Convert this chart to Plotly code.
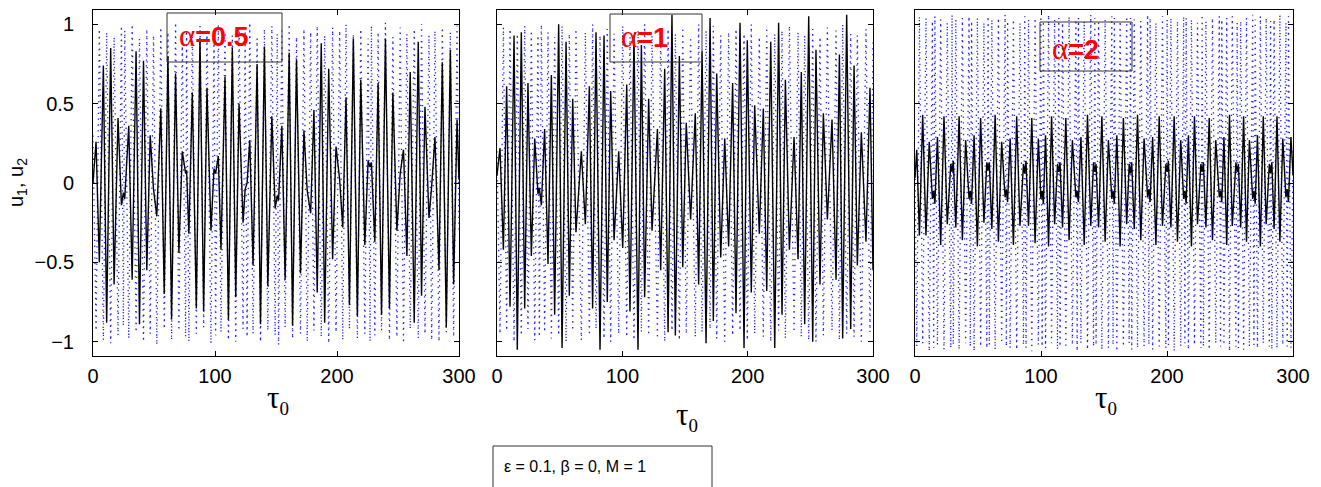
import plotly.graph_objects as go

W, H = 1321, 487

# ---------------- data ----------------
# Panel 1 : alpha = 0.5
tau_a = [0, 2.5, 5.2, 8.5, 11.2, 14.5, 17.3, 20.5, 23.3, 24.9,
         26.0, 29.3, 32.1, 35.3, 38.1, 41.4, 44.1, 46.9, 49.6, 52.3,
         55.6, 58.4, 61.4, 64.4, 67.7, 70.4, 73.2, 75.9, 76.7, 78.6,
         81.4, 84.7, 87.7, 90.7, 93.4, 96.7, 99.2, 100.5, 102.7, 104.9,
         108.2, 111.0, 114.2, 117.0, 119.7, 123.0, 124.7, 126.3, 128.5, 131.2,
         134.5, 137.3, 140.5, 143.3, 146.6, 149.3, 151.0, 152.1, 154.8, 157.5,
         160.8, 163.6, 166.8, 170.1, 172.9, 175.6, 178.4, 181.1, 183.8, 187.1,
         189.9, 193.2, 196.4, 199.2, 202.2, 204.7, 207.4, 210.2, 213.4, 216.7,
         219.5, 222.8, 225.5, 227.1, 228.2, 231.0, 233.7, 236.5, 239.7, 243.0,
         245.8, 249.1, 251.8, 254.5, 257.3, 260.0, 263.3, 266.6, 269.3, 272.1,
         275.4, 277.6, 280.3, 283.6, 286.3, 289.6, 292.9, 295.6, 298.4, 300]
u1_a = [0, 0.26, -0.5, 0.74, -0.88, 0.85, -0.64, 0.41, -0.14, -0.06,
        -0.10, 0.36, -0.61, 0.83, -0.89, 0.77, -0.55, 0.30, -0.04, -0.21,
        0.47, -0.70, 0.80, -0.86, 0.69, -0.44, 0.20, 0.06, 0.08, -0.32,
        0.57, -0.79, 0.91, -0.81, 0.60, -0.30, 0.09, 0.06, 0.17, -0.42,
        0.67, -0.86, 0.85, -0.72, 0.50, -0.25, -0.04, 0.0, 0.27, -0.52,
        0.75, -0.89, 0.86, -0.65, 0.42, -0.16, -0.08, -0.11, 0.36, -0.61,
        0.82, -0.90, 0.78, -0.57, 0.33, -0.05, -0.19, 0.46, -0.69, 0.88,
        -0.88, 0.72, -0.48, 0.23, 0.02, -0.28, 0.54, -0.77, 0.91, -0.84,
        0.65, -0.39, 0.14, 0.10, 0.13, -0.37, 0.63, -0.83, 0.91, -0.79,
        0.57, -0.30, 0.06, 0.21, -0.46, 0.70, -0.88, 0.89, -0.71, 0.48,
        -0.22, -0.02, 0.29, -0.55, 0.76, -0.91, 0.84, -0.64, 0.40, 0.02]
u2_a = [0.3, -0.93, 0.97, -0.99, 0.95, -1.01, 0.92, -0.96, 0.99, -0.9,
        0.96, -0.98, 1.0, -0.94, 0.91, -1.0, 0.97, -0.95, 0.93, -1.02,
        0.98, -0.92, 0.95, -0.99, 1.01, -0.93, 0.9, -0.97, 0.96, -1.0,
        0.94, -0.95, 0.99, -0.91, 0.97, -1.01, 0.92, -0.96, 1.0, -0.94,
        0.95, -0.99, 0.93, -1.0, 0.98, -0.92, 0.96, -0.97, 1.01, -0.95,
        0.91, -1.0, 0.97, -0.93, 0.99, -0.96, 0.94, -1.02, 0.96, -0.91,
        1.0, -0.98, 0.92, -0.95, 0.97, -1.0, 0.95, -0.93, 0.99, -0.97,
        0.93, -1.01, 0.98, -0.94, 0.96, -0.99, 1.0, -0.92, 0.94, -0.98,
        0.97, -0.95, 0.91, -1.0, 0.99, -0.96, 0.95, -0.93, 1.01, -0.99,
        0.92, -0.97, 0.98, -1.01, 0.94, -0.92, 0.97, -0.98, 1.0, -0.95,
        0.93, -0.99, 0.96, -1.0, 0.98, -0.94, 0.95, -0.97, 0.99, -0.3]

# Panel 2 : alpha = 1
tau_b = [0, 2.4, 5.1, 7.7, 10.4, 13.6, 16.2, 19.4, 22.1, 24.7,
         27.4, 30.1, 32.7, 33.8, 35.4, 38.0, 40.7, 43.4, 46.0, 49.2,
         51.9, 55.1, 57.7, 60.4, 63.0, 67.3, 70.5, 73.7, 76.3, 79.0,
         82.2, 85.4, 88.0, 90.7, 93.4, 97.1, 100.3, 103.5, 106.1, 109.3,
         112.5, 115.2, 117.8, 121.0, 123.7, 128.0, 130.6, 133.8, 136.5, 139.6,
         142.3, 145.5, 148.2, 151.0, 154.5, 158.2, 160.9, 163.6, 166.8, 170.0,
         172.6, 175.3, 178.5, 181.7, 184.8, 188.0, 190.7, 193.9, 197.1, 199.7,
         202.9, 205.6, 209.3, 212.5, 215.2, 218.4, 221.6, 224.7, 227.4, 230.1,
         233.3, 237.0, 240.2, 242.8, 245.5, 248.7, 251.9, 254.5, 257.7, 260.4,
         263.6, 267.3, 270.5, 273.2, 275.8, 279.0, 282.2, 284.9, 287.5, 290.7,
         294.4, 297.6, 300]
u1_b = [0.05, 0.22, -0.42, 0.61, -0.78, 0.93, -1.05, 0.95, -0.79, 0.63,
        -0.46, 0.28, -0.07, -0.03, -0.14, 0.34, -0.51, 0.68, -0.83, 1.00,
        -1.04, 0.89, -0.71, 0.53, -0.31, 0.20, -0.26, 0.61, -0.79, 0.95,
        -1.05, 0.93, -0.75, 0.58, -0.36, 0.20, -0.41, 0.62, -0.81, 0.93,
        -1.05, 0.87, -0.72, 0.53, -0.30, 0.34, -0.55, 0.72, -0.94, 1.06,
        -0.96, 0.80, -0.53, 0.38, -0.23, 0.44, -0.64, 0.83, -1.01, 1.04,
        -0.87, 0.69, -0.47, 0.28, -0.40, 0.63, -0.82, 1.01, -1.04, 0.90,
        -0.69, 0.49, -0.32, 0.47, -0.68, 0.89, -1.04, 1.01, -0.83, 0.65,
        -0.42, 0.29, -0.48, 0.70, -0.89, 1.05, -1.00, 0.84, -0.64, 0.44,
        -0.23, 0.40, -0.61, 0.81, -0.98, 1.06, -0.92, 0.74, -0.52, 0.32,
        -0.37, 0.60, -0.55]
u2_b = [0.2, -0.95, 0.98, -0.93, 0.97, -1.0, 0.94, -0.96, 0.99, -0.92,
        0.96, -0.99, 0.93, -0.97, 1.0, -0.94, 0.95, -0.98, 0.92, -0.96,
        0.99, -1.0, 0.94, -0.93, 0.97, -0.99, 0.95, -0.96, 1.0, -0.92,
        0.93, -0.98, 0.97, -1.0, 0.94, -0.95, 0.99, -0.97, 0.92, -0.99,
        0.96, -0.94, 1.0, -0.96, 0.93, -0.98, 0.95, -1.0, 0.97, -0.93,
        0.94, -0.99, 0.98, -0.95, 0.92, -0.97, 1.0, -0.94, 0.96, -0.92,
        0.99, -0.98, 0.93, -1.0, 0.95, -0.96, 0.97, -0.93, 0.94, -0.99,
        1.0, -0.95, 0.92, -0.97, 0.98, -1.0, 0.94, -0.93, 0.96, -0.98,
        0.99, -0.94, 0.95, -0.97, 0.93, -0.99, 0.97, -1.0, 0.92, -0.96,
        0.98, -0.93, 0.96, -0.99, 1.0, -0.95, 0.94, -0.97, 0.93, -1.0,
        0.97, -0.94, 0.9]

# Panel 3 : alpha = 2
tau_c = [0, 1.4, 3.5, 6.1, 8.7, 11.3, 13.8, 14.8, 15.8,
         17.8, 20.4, 23.0, 25.6, 28.4, 29.4, 30.4,
         32.4, 35.0, 37.6, 40.2, 42.9, 43.9, 44.9,
         46.9, 49.5, 52.1, 54.7, 57.0, 58.0, 59.0,
         61.0, 63.6, 66.2, 68.8, 71.5, 72.5, 73.5,
         75.5, 78.1, 80.7, 83.3, 86.1, 87.1, 88.1,
         90.1, 92.7, 95.3, 97.9, 99.9, 100.9, 101.9,
         103.6, 106.0, 108.4, 110.8, 113.1, 114.1, 115.1,
         117.1, 119.7, 122.3, 124.9, 127.7, 128.7, 129.7,
         131.7, 134.3, 136.9, 139.5, 141.7, 142.7, 143.7,
         145.7, 148.3, 150.9, 153.5, 156.2, 157.2, 158.2,
         160.2, 162.8, 165.4, 168.0, 170.0, 171.0, 172.0,
         174.0, 176.6, 179.2, 181.8, 184.6, 185.6, 186.6,
         188.6, 191.2, 193.8, 196.4, 199.1, 200.1, 201.1,
         203.1, 205.7, 208.3, 210.9, 213.2, 214.2, 215.2,
         217.0, 219.4, 221.8, 224.2, 226.9, 227.9, 228.9,
         230.9, 233.5, 236.1, 238.7, 241.5, 242.5, 243.5,
         245.2, 247.4, 249.6, 251.8, 254.7, 255.7, 256.7,
         258.5, 260.8, 263.1, 265.4, 268.0, 269.0, 270.0,
         271.8, 274.1, 276.4, 278.7, 281.2, 282.2, 283.2,
         285.0, 287.3, 289.6, 291.9, 294.4, 295.4, 296.4,
         298.4, 300]
u1_c = [0.03, 0.21, -0.33, 0.43, -0.33, 0.26, -0.10, -0.05, -0.13,
        0.29, -0.39, 0.42, -0.26, 0.12, 0.07, 0.14,
        -0.28, 0.42, -0.36, 0.27, -0.10, -0.05, -0.13,
        0.30, -0.40, 0.41, -0.25, 0.13, 0.08, 0.13,
        -0.29, 0.43, -0.37, 0.26, -0.09, -0.04, -0.12,
        0.28, -0.39, 0.42, -0.27, 0.12, 0.06, 0.14,
        -0.27, 0.41, -0.38, 0.28, -0.10, -0.05, -0.13,
        0.30, -0.40, 0.42, -0.26, 0.12, 0.07, 0.13,
        -0.28, 0.41, -0.36, 0.27, -0.09, -0.05, -0.12,
        0.29, -0.39, 0.43, -0.27, 0.13, 0.07, 0.12,
        -0.28, 0.42, -0.37, 0.27, -0.10, -0.05, -0.13,
        0.30, -0.40, 0.41, -0.26, 0.12, 0.06, 0.13,
        -0.29, 0.43, -0.36, 0.28, -0.09, -0.04, -0.12,
        0.29, -0.39, 0.42, -0.27, 0.12, 0.07, 0.14,
        -0.28, 0.42, -0.37, 0.27, -0.10, -0.05, -0.13,
        0.30, -0.40, 0.42, -0.26, 0.12, 0.07, 0.13,
        -0.28, 0.41, -0.36, 0.27, -0.09, -0.05, -0.12,
        0.29, -0.39, 0.43, -0.27, 0.13, 0.07, 0.12,
        -0.28, 0.42, -0.37, 0.27, -0.10, -0.05, -0.13,
        0.30, -0.40, 0.42, -0.26, 0.12, 0.06, 0.13,
        -0.29, 0.42, -0.37, 0.28, -0.09, -0.04, -0.12,
        0.29, 0.05]
u2_c = [0.1, -1.03, 1.05, -1.01, 1.04, -1.06, 1.02, -1.04, 1.05, -1.02,
        1.03, -1.05, 1.01, -1.04, 1.06, -1.02, 1.03, -1.05, 1.04, -1.01,
        1.05, -1.03, 1.02, -1.06, 1.04, -1.03, 1.01, -1.04, 1.05, -1.02,
        1.03, -1.05, 1.04, -1.01, 1.06, -1.03, 1.02, -1.04, 1.03, -1.05,
        1.01, -1.02, 1.05, -1.04, 1.03, -1.06, 1.04, -1.02, 1.05, -1.03,
        1.02, -1.04, 1.06, -1.01, 1.03, -1.05, 1.04, -1.03, 1.01, -1.04,
        1.05, -1.02, 1.03, -1.06, 1.04, -1.01, 1.02, -1.05, 1.06, -1.03,
        1.04, -1.02, 1.01, -1.05, 1.03, -1.04, 1.05, -1.02, 1.04, -1.06,
        1.02, -1.03, 1.05, -1.01, 1.04, -1.05, 1.03, -1.04, 1.02, -1.03,
        1.06, -1.02, 1.04, -1.05, 1.01, -1.03, 1.05, -1.04, 1.03, -1.02,
        1.04, -1.06, 1.02, -1.03, 1.05, -1.01, 1.04, -1.05, 1.03, -1.02,
        1.01, -1.04, 1.06, -1.03, 1.02, -1.05, 1.04, -1.01, 1.05, -1.03,
        1.03, -1.02, 1.04, -1.06, 1.05, -1.03, 1.01, -1.04, 1.02, -1.05,
        1.04, -1.03, 1.06, -1.02, 1.03, -1.04, 1.05, -1.01, 1.04, -1.03,
        1.02, -1.05, 1.03, -1.04, 1.06, -1.02, 1.01, -1.03, 1.05, -1.04,
        0.2]

alpha_labels = ["0.5", "1", "2"]
x_ticks = [0, 100, 200, 300]
y_ticks = [-1, -0.5, 0, 0.5, 1]
param_text = "ε = 0.1, β = 0, M = 1"

# ---------------- figure ----------------
panels = [(tau_a, u1_a, u2_a), (tau_b, u1_b, u2_b), (tau_c, u1_c, u2_c)]
x_px = [(93, 459), (497, 873), (915, 1293)]
y_px = (10, 356)

fig = go.Figure()
for i, (t, a, b) in enumerate(panels):
    xa = "x" if i == 0 else f"x{i+1}"
    ya = "y" if i == 0 else f"y{i+1}"
    fig.add_trace(go.Scatter(x=t, y=b, mode="lines", xaxis=xa, yaxis=ya,
                             line=dict(color="rgb(30,30,255)", width=1.3, dash="1.3px,4.5px"),
                             showlegend=False, hoverinfo="skip"))
    fig.add_trace(go.Scatter(x=t, y=a, mode="lines", xaxis=xa, yaxis=ya,
                             line=dict(color="black", width=1.4),
                             showlegend=False, hoverinfo="skip"))

tickfont = dict(family="Liberation Sans", size=20, color="black")
layout = dict(width=W, height=H,
              margin=dict(l=0, r=0, t=0, b=0, pad=0, autoexpand=False),
              paper_bgcolor="white", plot_bgcolor="white", showlegend=False)
for i, (l, r) in enumerate(x_px):
    xk = "xaxis" if i == 0 else f"xaxis{i+1}"
    yk = "yaxis" if i == 0 else f"yaxis{i+1}"
    layout[xk] = dict(domain=[l / W, r / W], range=[0, 300], tickvals=x_ticks,
                      ticks="inside", ticklen=5, tickcolor="black",
                      showline=True, linecolor="black", linewidth=1, mirror="ticks",
                      showgrid=False, zeroline=False, tickfont=tickfont, automargin=False,
                      anchor="y" if i == 0 else f"y{i+1}", ticklabelstandoff=2)
    layout[yk] = dict(domain=[1 - y_px[1] / H, 1 - y_px[0] / H], range=[-1.09, 1.09],
                      tickvals=y_ticks, ticks="inside", ticklen=5, tickcolor="black",
                      showline=True, linecolor="black", linewidth=1, mirror="ticks",
                      showgrid=False, zeroline=False, tickfont=tickfont, automargin=False,
                      showticklabels=(i == 0), ticklabelstandoff=14,
                      anchor="x" if i == 0 else f"x{i+1}")
fig.update_layout(**layout)

# alpha boxes
boxes = [(167, 282, 13, 62), (610, 702, 14, 62), (1040, 1132, 22, 71)]
text_pos = [(177, 36), (619, 37), (1050, 49)]
for (x0, x1, y0, y1), (tx, ty), lab in zip(boxes, text_pos, alpha_labels):
    fig.add_shape(type="rect", xref="paper", yref="paper",
                  x0=x0 / W, x1=x1 / W, y0=1 - y1 / H, y1=1 - y0 / H,
                  line=dict(color="#333333", width=1), fillcolor="rgba(0,0,0,0)")
    fig.add_annotation(xref="paper", yref="paper", x=tx / W, y=1 - ty / H,
                       xanchor="left", yanchor="middle", showarrow=False,
                       text=f"<span style='font-family:Liberation Serif;font-size:31px'>α</span><b>={lab}</b>",
                       font=dict(family="Liberation Sans", size=27, color="red"))

# axis titles
for (l, r), ty in zip(x_px, [399, 416, 399]):
    fig.add_annotation(xref="paper", yref="paper", x=((l + r) / 2 + 2) / W, y=1 - ty / H,
                       xanchor="center", yanchor="middle", showarrow=False,
                       text="τ<sub><span style='font-size:19px'>0</span></sub>",
                       font=dict(family="Liberation Serif", size=31, color="black"))
fig.add_annotation(xref="paper", yref="paper", x=17 / W, y=1 - 183 / H,
                   xanchor="center", yanchor="middle", showarrow=False, textangle=-90,
                   text="u<sub>1</sub>, u<sub>2</sub>",
                   font=dict(family="Liberation Sans", size=20, color="black"))

# parameter box (its lower part runs off the picture, as in the original)
fig.add_shape(type="rect", xref="paper", yref="paper",
              x0=493 / W, x1=712 / W, y0=-0.02, y1=1 - 446 / H,
              line=dict(color="#333333", width=1), fillcolor="white")
fig.add_annotation(xref="paper", yref="paper", x=502 / W, y=1 - 466 / H,
                   xanchor="left", yanchor="middle", showarrow=False,
                   text=param_text,
                   font=dict(family="Liberation Sans", size=16, color="black"))

post = """
document.documentElement.style.margin='0';
document.body.style.margin='0';
document.body.style.overflow='hidden';
document.documentElement.style.overflow='hidden';
"""

fig.write_html("out.html", config={"displayModeBar": False}, post_script=post)
